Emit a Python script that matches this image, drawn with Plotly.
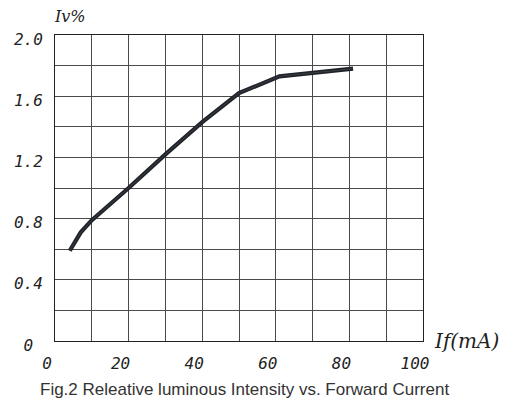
import plotly.graph_objects as go

current_ma = [4, 7, 10, 20, 30, 40, 50, 61, 81]
rel_intensity = [0.59, 0.71, 0.79, 1.0, 1.22, 1.43, 1.62, 1.73, 1.78]

x_tickvals = [0, 20, 40, 60, 80, 100]
x_ticktext = ["0", "20", "40", "60", "80", "100"]
y_tickvals = [0, 0.4, 0.8, 1.2, 1.6, 2.0]
y_ticktext = ["0\u00a0", "0.4", "0.8", "1.2", "1.6", "2.0"]

caption = "Fig.2 Releative luminous Intensity vs. Forward Current"

fig = go.Figure()
fig.add_trace(go.Scatter(x=current_ma, y=rel_intensity, mode="lines",
                         line=dict(color="#1f2329", width=4.2), showlegend=False,
                         hoverinfo="skip"))
fig.add_trace(go.Scatter(x=current_ma, y=rel_intensity, mode="lines",
                         line=dict(color="#5a5e64", width=0.8), showlegend=False,
                         opacity=0.6, hoverinfo="skip"))

grid_col = "#4a4a4a"
tickfont = dict(family="DejaVu Sans Mono", size=16, color="#222", style="italic")

fig.update_layout(
    width=513, height=406,
    margin=dict(l=55, r=90, t=35, b=65),
    paper_bgcolor="white", plot_bgcolor="white",
    font=dict(family="DejaVu Sans Mono", color="#222"),
    xaxis=dict(range=[0, 100], tickvals=x_tickvals, ticktext=x_ticktext,
               showgrid=True, gridcolor=grid_col, gridwidth=1,
               minor=dict(dtick=10, tick0=0, showgrid=True, gridcolor=grid_col, gridwidth=1),
               showline=True, linecolor="#222", linewidth=1, mirror=True,
               ticks="", tickfont=tickfont, ticklabelshift=-8, ticklabelstandoff=8,
               zeroline=False, fixedrange=True, automargin=False),
    yaxis=dict(range=[0, 2.0], tickvals=y_tickvals, ticktext=y_ticktext,
               showgrid=True, gridcolor=grid_col, gridwidth=1,
               minor=dict(dtick=0.2, tick0=0, showgrid=True, gridcolor=grid_col, gridwidth=1),
               showline=True, linecolor="#222", linewidth=1, mirror=True,
               ticks="", tickfont=tickfont, ticklabelshift=4, ticklabelstandoff=8,
               zeroline=False, fixedrange=True, automargin=False),
)

fig.add_annotation(text="<i>Iv%</i>", xref="paper", yref="paper", x=0.0, y=1.0,
                   xanchor="left", yanchor="bottom", xshift=-3, yshift=7, showarrow=False,
                   font=dict(family="DejaVu Serif", size=16, color="#222"))
fig.add_annotation(text="<i>If(mA)</i>", xref="paper", yref="paper", x=1.0, y=0.0,
                   xanchor="left", yanchor="middle", xshift=9, showarrow=False,
                   font=dict(family="DejaVu Serif", size=20, color="#222"))
fig.add_annotation(text=caption, xref="paper", yref="paper", x=0.0, y=0.0,
                   xanchor="left", yanchor="middle", xshift=-17, yshift=-48, showarrow=False,
                   font=dict(family="Liberation Sans", size=17, color="#333"))

fig.write_html("out.html", post_script="document.body.style.margin='0';",
               config={"displayModeBar": False, "staticPlot": True})
